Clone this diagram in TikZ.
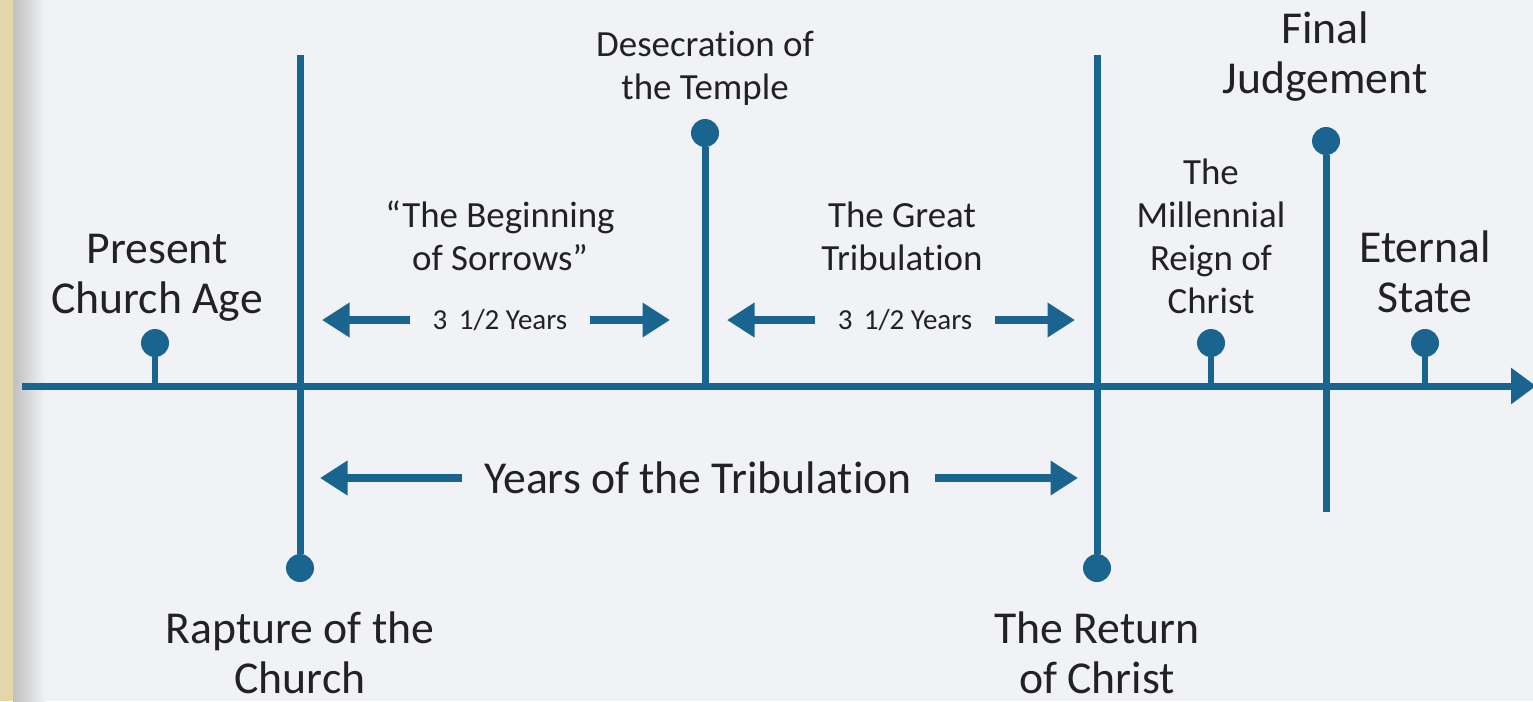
\documentclass[tikz,border=0pt]{standalone}
\usepackage{fontspec}
\setmainfont{Carlito}[Ligatures=NoCommon]
\usetikzlibrary{arrows.meta}
\definecolor{tlblue}{HTML}{1A6590}
\definecolor{tltext}{HTML}{222222}
\definecolor{paper}{HTML}{E3D6A8}
\definecolor{board}{HTML}{F1F2F5}
\begin{document}
\begin{tikzpicture}[x=0.02cm,y=-0.02cm,
  line/.style={draw=tlblue, line width=0.14cm},
  stem/.style={draw=tlblue, line width=0.11cm},
  dot/.style={circle, fill=tlblue, minimum size=0.56cm, inner sep=0pt},
  span/.style={draw=tlblue, line width=0.17cm, -{Triangle[length=0.55cm, width=0.66cm]}},
  big/.style={text=tltext, align=center, font=\fontsize{26}{28.5}\selectfont},
  mid/.style={text=tltext, align=center, font=\fontsize{21}{24.5}\selectfont},
  small/.style={text=tltext, font=\fontsize{16.5}{19}\selectfont, inner xsep=0.45cm}]
% background
\fill[paper] (0,0) rectangle (1533,701);
\fill[board] (13,0) rectangle (1533,701);
\shade[left color=black!25, right color=board] (13,0) rectangle (45,701);
\useasboundingbox (0,0) rectangle (1533,701);
% points on the line
\node[dot] (present) at (155,343) {};
\node[dot] (rapture) at (300,568) {};
\node[dot] (desecration) at (705,133) {};
\node[dot] (return) at (1097,568) {};
\node[dot] (millennium) at (1211,343) {};
\node[dot] (judgement) at (1326,141) {};
\node[dot] (eternal) at (1425,343) {};
\coordinate (start) at (22,386);
\coordinate (end) at (1536,386);
\coordinate (rapturetop) at (300,55);
\coordinate (returntop) at (1097,55);
\coordinate (judgementend) at (1326,512);
% the time line
\draw[line, -{Triangle[length=0.5cm, width=0.7cm]}] (start) -- (end);
\draw[stem] (present) -- (present |- start);
\draw[stem] (millennium) -- (millennium |- start);
\draw[stem] (eternal) -- (eternal |- start);
\draw[line] (rapture) -- (rapturetop);
\draw[line] (return) -- (returntop);
\draw[line] (desecration) -- (desecration |- start);
\draw[line] (judgement) -- (judgementend);
% labels
\node[big] (presentlabel) at (157,278) {Present\\Church Age};
\node[big] (rapturelabel) at (300,653) {Rapture of the\\Church};
\node[big] (returnlabel) at (1097,653) {The Return\\of Christ};
\node[mid] (desecrationlabel) at (705,68) {Desecration of\\the Temple};
\node[mid] (sorrowslabel) at (500,236) {“The Beginning\\of Sorrows”};
\node[mid] (greatlabel) at (902,236) {The Great\\Tribulation};
\node[mid] (millenniumlabel) at (1211,236) {The\\Millennial\\Reign of\\Christ};
\node[big] (judgementlabel) at (1325,57) {Final\\Judgement};
\node[big] (eternallabel) at (1425,272) {Eternal\\State};
% spans
\coordinate (firstleft) at (322,320);
\coordinate (firstright) at (670,320);
\coordinate (secondleft) at (727,320);
\coordinate (secondright) at (1075,320);
\coordinate (wholeleft) at (320,478);
\coordinate (wholeright) at (1078,478);
\node[small] (firsthalf) at (500,320) {3\, 1/2 Years};
\node[small] (secondhalf) at (905,320) {3\, 1/2 Years};
\node[big, inner xsep=0.45cm] (whole) at (698,478) {Years of the Tribulation};
\draw[span] (firsthalf) -- (firstleft);
\draw[span] (firsthalf) -- (firstright);
\draw[span] (secondhalf) -- (secondleft);
\draw[span] (secondhalf) -- (secondright);
\draw[span] (whole) -- (wholeleft);
\draw[span] (whole) -- (wholeright);
\end{tikzpicture}
\end{document}
